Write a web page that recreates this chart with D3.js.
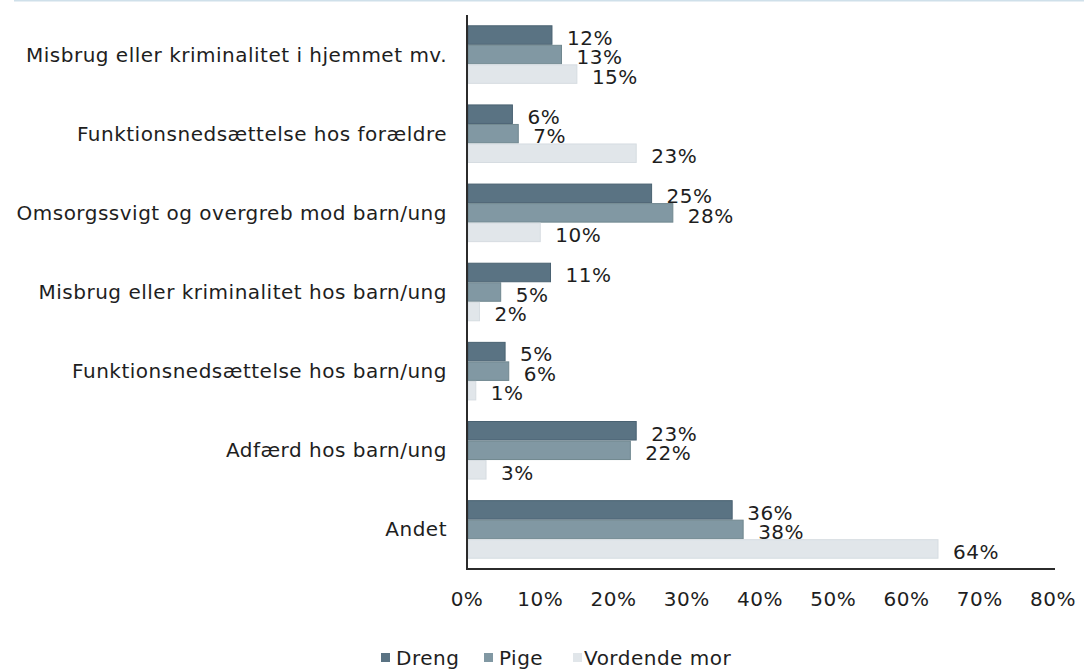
<!DOCTYPE html>
<html>
<head>
<meta charset="utf-8">
<script src="https://cdn.jsdelivr.net/npm/d3@7"></script>
<style>
    body { margin: 0; background: #fff; }
    text { font-family: "DejaVu Sans", Verdana, sans-serif; fill: #1e1e1e; }
</style>
</head>
<body>
<svg id="chart"></svg>
<script>
const categories = [
    "Misbrug eller kriminalitet i hjemmet mv.",
    "Funktionsnedsættelse hos forældre",
    "Omsorgssvigt og overgreb mod barn/ung",
    "Misbrug eller kriminalitet hos barn/ung",
    "Funktionsnedsættelse hos barn/ung",
    "Adfærd hos barn/ung",
    "Andet"
];
const seriesNames = ["Dreng", "Pige", "Vordende mor"];
const dreng = [11.6, 6.2, 25.2, 11.4, 5.2, 23.1, 36.2];
const pige = [12.9, 7.0, 28.1, 4.6, 5.7, 22.3, 37.7];
const vordendeMor = [15.0, 23.1, 10.0, 1.7, 1.2, 2.6, 64.3];
const xTicks = [0, 10, 20, 30, 40, 50, 60, 70, 80];
const colors = ["#5a7383", "#8198a3", "#e1e6ea"];
const strokes = ["#4a6272", "#70878f", "#d6dce1"];

const width = 1084, height = 670;
const margin = {top: 15, left: 467, right: 31, bottom: 101};

const svg = d3.select("#chart")
    .attr("width", width)
    .attr("height", height);

// thin line at the very top
svg.append("line")
    .attr("x1", 14).attr("x2", width)
    .attr("y1", 0.5).attr("y2", 0.5)
    .attr("stroke", "#cfe0ea")
    .attr("stroke-width", 2);

const x = d3.scaleLinear()
    .domain([0, 80])
    .range([margin.left, width - margin.right]);

const y = d3.scaleBand()
    .domain(categories)
    .range([margin.top, height - margin.bottom])
    .paddingInner(0.26)
    .paddingOuter(0.13);

const ySub = d3.scaleBand()
    .domain(seriesNames)
    .range([0, y.bandwidth()]);

const rows = categories.map((c, i) => ({
    category: c,
    values: [dreng[i], pige[i], vordendeMor[i]].map((v, j) => ({series: seriesNames[j], idx: j, value: v}))
}));

const fontSize = 20;
const spacing = 0.5;

const group = svg.append("g")
    .selectAll("g")
    .data(rows)
    .enter().append("g")
    .attr("transform", d => `translate(0,${y(d.category)})`);

group.selectAll("rect")
    .data(d => d.values)
    .enter().append("rect")
    .attr("x", x(0) + 1)
    .attr("y", d => ySub(d.series) + 0.5)
    .attr("width", d => x(d.value) - x(0) - 1)
    .attr("height", ySub.bandwidth() - 1)
    .attr("fill", d => colors[d.idx])
    .attr("stroke", d => strokes[d.idx])
    .attr("stroke-width", 1);

group.selectAll("text.val")
    .data(d => d.values)
    .enter().append("text")
    .attr("class", "val")
    .attr("x", d => x(d.value) + 15)
    .attr("y", d => ySub(d.series) + ySub.bandwidth())
    .attr("font-size", fontSize)
    .attr("letter-spacing", spacing)
    .text(d => Math.round(d.value) + "%");

// category labels
svg.append("g")
    .selectAll("text")
    .data(categories)
    .enter().append("text")
    .attr("x", margin.left - 20)
    .attr("y", d => y(d) + y.bandwidth() / 2)
    .attr("dy", "0.35em")
    .attr("text-anchor", "end")
    .attr("font-size", fontSize)
    .attr("letter-spacing", spacing)
    .text(d => d);

// axes lines
svg.append("line")
    .attr("x1", x(0)).attr("x2", x(0))
    .attr("y1", margin.top).attr("y2", height - margin.bottom)
    .attr("stroke", "#2b2b2b")
    .attr("stroke-width", 2);
svg.append("line")
    .attr("x1", x(0) - 1).attr("x2", x(80) + 2)
    .attr("y1", height - margin.bottom).attr("y2", height - margin.bottom)
    .attr("stroke", "#2b2b2b")
    .attr("stroke-width", 2);

svg.append("g")
    .selectAll("text")
    .data(xTicks)
    .enter().append("text")
    .attr("x", d => x(d))
    .attr("y", 606)
    .attr("text-anchor", "middle")
    .attr("font-size", fontSize)
    .attr("letter-spacing", spacing)
    .text(d => d + "%");

// legend
const legendX = [381, 484, 573];
const legend = svg.append("g")
    .selectAll("g")
    .data(seriesNames)
    .enter().append("g")
    .attr("transform", (d, i) => `translate(${legendX[i]},0)`);
legend.append("rect")
    .attr("x", 0).attr("y", 653)
    .attr("width", 9).attr("height", 9)
    .attr("fill", (d, i) => colors[i]);
legend.append("text")
    .attr("x", (d, i) => i === 2 ? 11 : 15)
    .attr("y", 665)
    .attr("font-size", fontSize)
    .attr("letter-spacing", spacing)
    .text(d => d);
</script>
</body>
</html>
